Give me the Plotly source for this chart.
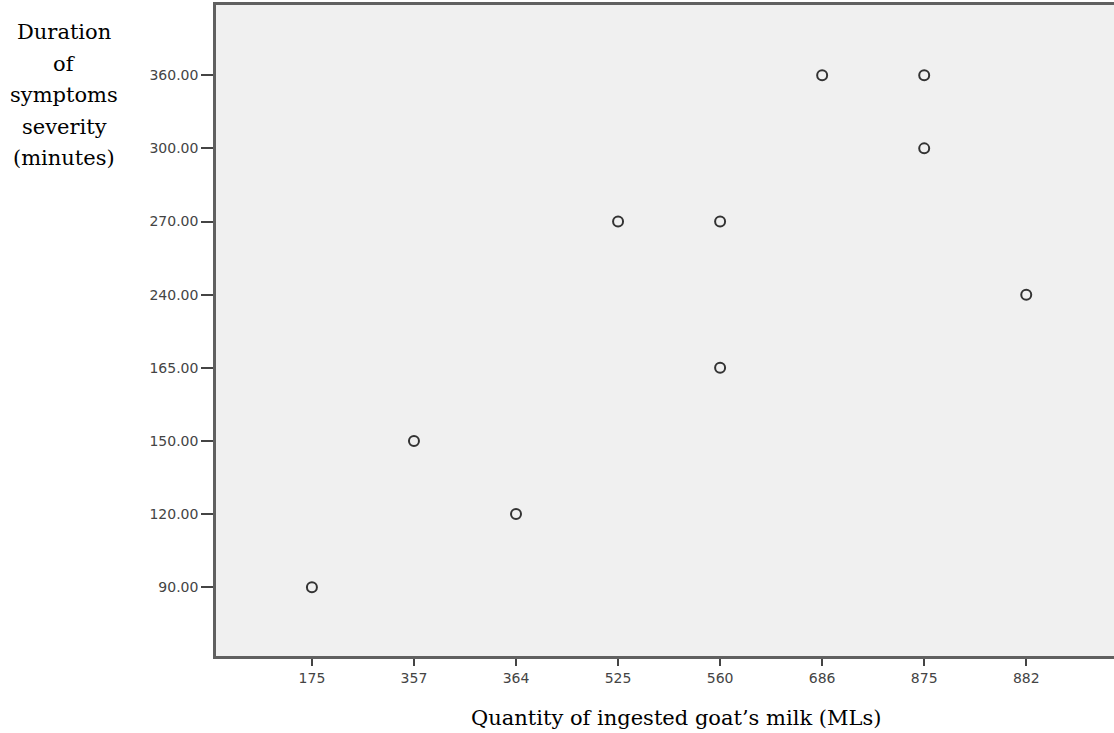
import plotly.graph_objects as go

x_categories = ["175", "357", "364", "525", "560", "686", "875", "882"]
y_categories = ["90.00", "120.00", "150.00", "165.00", "240.00", "270.00", "300.00", "360.00"]

milk_ml = ["175", "357", "364", "525", "560", "560", "686", "875", "875", "882"]
duration_min = ["90.00", "150.00", "120.00", "270.00", "270.00", "165.00", "360.00", "360.00", "300.00", "240.00"]

y_title_lines = ["Duration", "of", "symptoms", "severity", "(minutes)"]
x_title = "Quantity of ingested goat’s milk (MLs)"

W, H = 1114, 733
ML, MR, MT, MB = 216, 0, 5, 77
PW, PH = W - ML - MR, H - MT - MB

serif = "DejaVu Serif, Liberation Serif, serif"

fig = go.Figure()
fig.add_trace(go.Scatter(
    x=milk_ml, y=duration_min, mode="markers",
    marker=dict(symbol="circle-open", size=10, color="#333333", line=dict(width=2, color="#333333")),
    showlegend=False, hoverinfo="x+y",
))

axis_font = dict(family="DejaVu Sans, sans-serif", size=14, color="#444444")

annotations = []
for i, line in enumerate(y_title_lines):
    py = 32 + i * 31.6
    annotations.append(dict(
        text=line, xref="paper", yref="paper",
        x=(64 - ML) / PW, y=(H - MB - py) / PH,
        xanchor="center", yanchor="middle", showarrow=False,
        font=dict(family=serif, size=21, color="black"),
    ))
annotations.append(dict(
    text=x_title, xref="paper", yref="paper",
    x=(676 - ML) / PW, y=(H - MB - 718) / PH,
    xanchor="center", yanchor="middle", showarrow=False,
    font=dict(family=serif, size=21, color="black"),
))

fig.update_layout(
    width=W, height=H,
    margin=dict(l=ML, r=MR, t=MT, b=MB),
    paper_bgcolor="white", plot_bgcolor="#f0f0f0",
    xaxis=dict(
        type="category", categoryorder="array", categoryarray=x_categories,
        range=[-0.94, 7.86], showgrid=False, zeroline=False,
        showline=True, linecolor="#606060", linewidth=2.5, mirror=True,
        ticks="outside", ticklen=7, tickwidth=2, tickcolor="#444444",
        tickfont=axis_font,
    ),
    yaxis=dict(
        type="category", categoryorder="array", categoryarray=y_categories,
        range=[-0.94, 7.96], showgrid=False, zeroline=False,
        showline=True, linecolor="#606060", linewidth=2.5, mirror=False,
        ticks="outside", ticklen=12, tickwidth=2, tickcolor="#444444",
        tickfont=axis_font,
    ),
    annotations=annotations,
)

fig.write_html("out.html", config={"displayModeBar": False},
               post_script="document.body.style.margin='0';")
